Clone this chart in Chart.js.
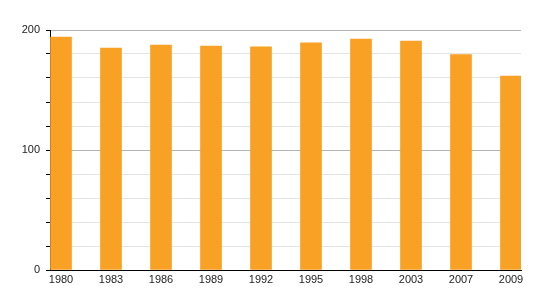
<!DOCTYPE html>
<html lang="en">
<head>
  <meta charset="UTF-8">
  <title>Bar chart 1980-2009</title>
  <script src="https://cdn.jsdelivr.net/npm/chart.js"></script>
  <style>
    html, body {
      margin: 0;
      padding: 0;
      background: #ffffff;
    }
    .wrap {
      width: 550px;
      height: 300px;
    }
  </style>
</head>
<body>

<div class="wrap">
  <canvas id="chart" width="550" height="300"></canvas>
</div>

<script>
  const years = ['1980', '1983', '1986', '1989', '1992', '1995', '1998', '2003', '2007', '2009'];
  const values = [194, 185, 187.5, 186.7, 186, 189.4, 192.5, 190.8, 179.5, 161.7];
  const yLabels = [0, 100, 200];

  const ctx = document.getElementById('chart').getContext('2d');
  const chart = new Chart(ctx, {
    type: 'bar',
    data: {
      datasets: [{
        data: values.map((v, i) => ({ x: i, y: v })),
        backgroundColor: '#f8a124',
        borderWidth: 0,
        barThickness: 21
      }]
    },
    options: {
      responsive: false,
      animation: false,
      layout: { padding: { top: 30, right: 29, bottom: 0, left: 0 } },
      plugins: { tooltip: { enabled: false }, legend: { display: false } },
      scales: {
        x: {
          type: 'linear',
          offset: false,
          min: -0.22,
          max: 9.2,
          afterBuildTicks: axis => { axis.ticks = years.map((_, i) => ({ value: i })); },
          afterFit: s => { s.height = 30; },
          grid: { display: false, drawTicks: false, offset: false },
          border: { display: true, color: '#000', width: 1 },
          ticks: {
            autoSkip: false,
            maxRotation: 0,
            padding: 3,
            color: '#222',
            font: { family: 'Liberation Sans', size: 11 },
            callback: v => years[v] ?? ''
          }
        },
        y: {
          min: 0,
          max: 200,
          afterFit: s => { s.width = 50; },
          grid: {
            color: c => (c.tick && c.tick.value % 100 === 0) ? '#b4b4b4' : '#e4e4e4',
            tickColor: '#000',
            tickLength: 4
          },
          border: { display: true, color: '#000', width: 1 },
          ticks: {
            stepSize: 20,
            padding: 6,
            color: '#222',
            font: { family: 'Liberation Sans', size: 11 },
            callback: v => yLabels.includes(v) ? String(v) : ''
          }
        }
      }
    }
  });
</script>

</body>
</html>
